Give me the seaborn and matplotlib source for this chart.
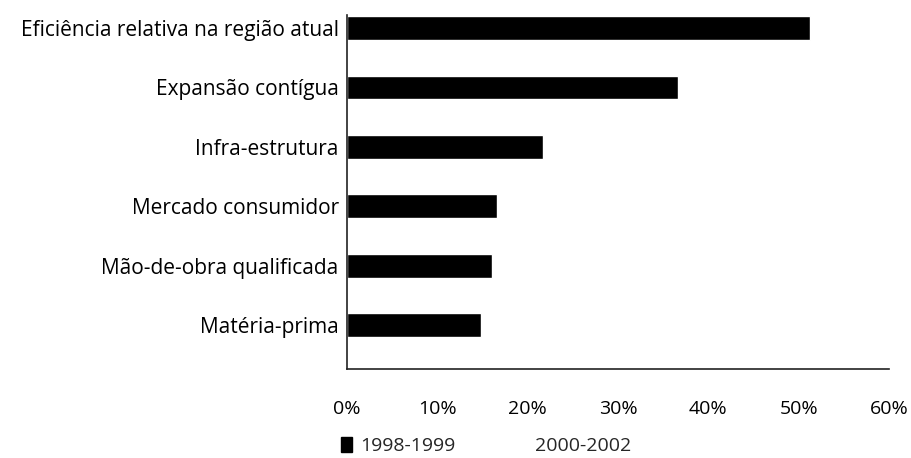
import matplotlib

matplotlib.use("Agg")

import matplotlib.pyplot as plt
import pandas as pd
import seaborn as sns
from matplotlib.patches import Patch
from matplotlib.ticker import PercentFormatter

FACTORS = [
    "Eficiência relativa na região atual",
    "Expansão contígua",
    "Infra-estrutura",
    "Mercado consumidor",
    "Mão-de-obra qualificada",
    "Matéria-prima",
]
SHARE_1998_1999 = [51.2, 36.6, 21.7, 16.6, 16.1, 14.8]
SERIES = ["1998-1999", "2000-2002"]
XTICKS = [0, 10, 20, 30, 40, 50, 60]

sns.set_theme(style="white")
plt.rcParams["font.family"] = ["Open Sans", "DejaVu Sans"]

df = pd.DataFrame({"fator": FACTORS, "valor": SHARE_1998_1999})

fig = plt.figure(figsize=(9.12, 4.58), dpi=100)
ax = fig.add_axes([347 / 912, 1 - 369 / 458, (889 - 347) / 912, (369 - 15) / 458])

sns.barplot(data=df, y="fator", x="valor", orient="h", color="black",
            width=0.4, saturation=1, ax=ax)

ax.set_xlim(0, 60)
ax.set_ylim(5.74, -0.22)
ax.set_xticks(XTICKS)
ax.xaxis.set_major_formatter(PercentFormatter(decimals=0))
ax.set_xlabel("")
ax.set_ylabel("")
ax.tick_params(axis="y", length=0, labelsize=15, colors="black", pad=6)
ax.tick_params(axis="x", length=0, labelsize=14, colors="black", pad=22)
for s in ("top", "right"):
    ax.spines[s].set_visible(False)
for s in ("left", "bottom"):
    ax.spines[s].set_color("#222222")
    ax.spines[s].set_linewidth(1.2)

# the 2000-2002 series is not drawn in the source, only its legend label
handles = [Patch(facecolor="black", edgecolor="black", label=SERIES[0]),
           Patch(facecolor="white", edgecolor="white", label=SERIES[1])]
fig.legend(handles=handles, loc="center", bbox_to_anchor=(486 / 912, 1 - 446 / 458),
           ncol=2, frameon=False, fontsize=14, handlelength=0.6, handleheight=0.8,
           handletextpad=0.4, columnspacing=3.1)

fig.savefig("out.png", dpi=100)
